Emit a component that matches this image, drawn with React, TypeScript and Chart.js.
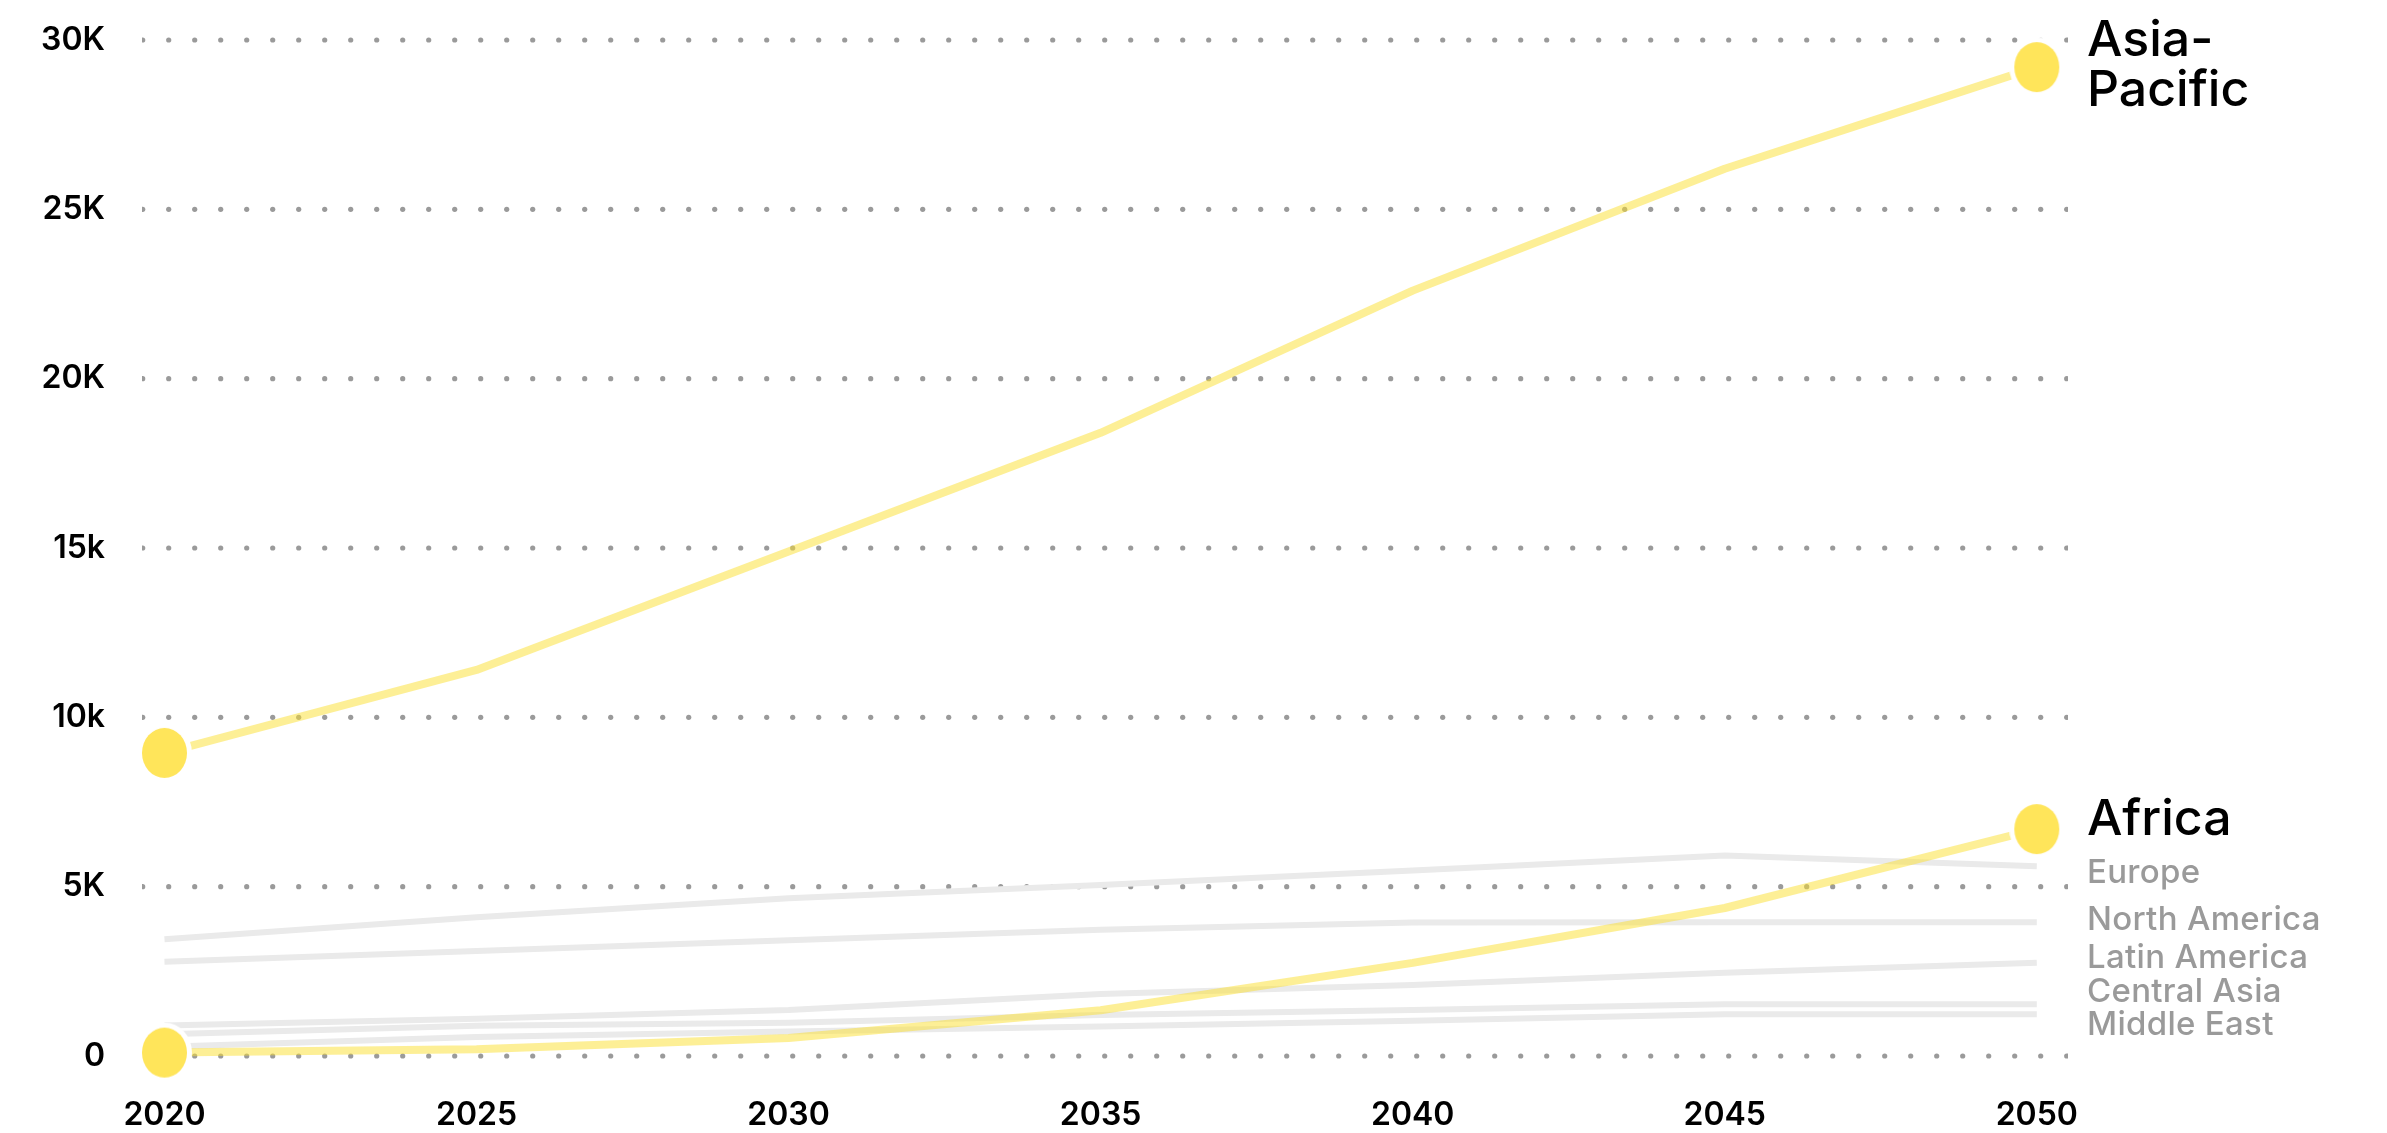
import React, { useEffect, useRef } from 'react';
import { Chart, registerables } from 'chart.js';

Chart.register(...registerables);

// ---- Data ----
const years = [2020, 2025, 2030, 2035, 2040, 2045, 2050];

const seriesLabels = ['Asia-\nPacific', 'Africa', 'Europe', 'North America', 'Latin America', 'Central Asia', 'Middle East'];
const highlighted = [true, true, false, false, false, false, false];

const asiaPacific = [8950, 11400, 14900, 18400, 22600, 26200, 29200];
const africa = [100, 200, 530, 1350, 2750, 4370, 6700];
const europe = [3450, 4100, 4660, 5050, 5480, 5920, 5600];
const northAmerica = [2780, 3100, 3420, 3730, 3940, 3950, 3950];
const latinAmerica = [900, 1100, 1360, 1830, 2100, 2460, 2750];
const centralAsia = [640, 890, 980, 1210, 1360, 1530, 1530];
const middleEast = [270, 560, 720, 870, 1040, 1230, 1230];

const allSeries = [asiaPacific, africa, europe, northAmerica, latinAmerica, centralAsia, middleEast];

const yTickValues = [0, 5000, 10000, 15000, 20000, 25000, 30000];
const yTickLabels = ['0', '5K', '10k', '15k', '20K', '25K', '30K'];

// ---- Styles ----
const FONT = 'Inter';
const YELLOW_LINE = 'rgba(252,224,45,0.5)';
const YELLOW_DOT = '#ffe55a';
const GRAY_LINE = '#eaeaea';
const GRAY_TEXT = '#9a9a9a';
const GRID_DOT = '#9a9a9a';

function makeDot(): HTMLCanvasElement {
  const rx = 22.5, ry = 25, ring = 5;
  const c = document.createElement('canvas');
  c.width = Math.round((rx + ring) * 2);
  c.height = Math.round((ry + ring) * 2);
  const g = c.getContext('2d')!;
  g.fillStyle = '#ffffff';
  g.beginPath();
  g.ellipse(c.width / 2, c.height / 2, rx + ring, ry + ring, 0, 0, Math.PI * 2);
  g.fill();
  g.fillStyle = YELLOW_DOT;
  g.beginPath();
  g.ellipse(c.width / 2, c.height / 2, rx, ry, 0, 0, Math.PI * 2);
  g.fill();
  return c;
}

const dottedGrid = {
  id: 'dottedGrid',
  beforeDatasetsDraw(chart: any) {
    const { ctx, chartArea } = chart;
    const y = chart.scales.y;
    ctx.save();
    ctx.beginPath();
    ctx.rect(chartArea.left, chartArea.top - 10, chartArea.right - chartArea.left, chartArea.bottom - chartArea.top + 20);
    ctx.clip();
    ctx.fillStyle = GRID_DOT;
    y.ticks.forEach((t: any) => {
      const py = y.getPixelForValue(t.value);
      for (let px = chartArea.left + 0.7; px <= chartArea.right + 3; px += 26) {
        ctx.beginPath();
        ctx.arc(px, py, 2.6, 0, Math.PI * 2);
        ctx.fill();
      }
    });
    ctx.restore();
  },
};

type LabelItem = { y: number; lines: string[]; hl: boolean; size: number; lh: number; h: number; cy: number };

const endLabels = {
  id: 'endLabels',
  afterDatasetsDraw(chart: any) {
    const { ctx, chartArea } = chart;
    const yScale = chart.scales.y;
    const items: LabelItem[] = chart.data.datasets.map((ds: any, i: number) => {
      const last = ds.data[ds.data.length - 1];
      const lines = seriesLabels[i].split('\n');
      const hl = highlighted[i];
      const size = hl ? 50 : 33;
      const lh = hl ? 50 : 33.5;
      const h = hl ? Math.max(76, lines.length * lh) : lh;
      return { y: yScale.getPixelForValue(last.y), lines, hl, size, lh, h, cy: 0 };
    });
    const sorted = [...items].sort((a, b) => a.y - b.y);
    type Cl = { items: LabelItem[]; top: number; height: number };
    const clusters: Cl[] = [];
    for (const it of sorted) {
      clusters.push({ items: [it], top: it.y - it.h / 2, height: it.h });
      while (clusters.length > 1) {
        const b = clusters[clusters.length - 1];
        const a = clusters[clusters.length - 2];
        if (a.top + a.height <= b.top) break;
        const merged = [...a.items, ...b.items];
        let off = 0;
        let sum = 0;
        for (const x of merged) {
          sum += x.y - off - x.h / 2;
          off += x.h;
        }
        clusters.splice(-2, 2, { items: merged, top: sum / merged.length, height: off });
      }
    }
    for (const c of clusters) {
      let off = c.top;
      for (const x of c.items) {
        x.cy = off + x.h / 2;
        off += x.h;
      }
    }
    const shift = -4;
    const tx = chartArea.right + 19;
    ctx.save();
    ctx.textAlign = 'left';
    ctx.textBaseline = 'alphabetic';
    for (const it of items) {
      ctx.font = `500 ${it.size}px ${FONT}`;
      try {
        (ctx as any).letterSpacing = it.hl ? '0px' : '0.3px';
      } catch (e) {
        /* ignore */
      }
      ctx.fillStyle = it.hl ? '#000000' : GRAY_TEXT;
      const n = it.lines.length;
      const firstMid = it.cy + shift - ((n - 1) * it.lh) / 2;
      it.lines.forEach((line, k) => {
        const base = firstMid + k * it.lh + 0.364 * it.size;
        ctx.fillText(line, tx, base);
      });
    }
    ctx.restore();
  },
};

export default function App() {
  const ref = useRef<HTMLCanvasElement | null>(null);

  useEffect(() => {
    const canvas = ref.current;
    if (!canvas) return;
    const dot = makeDot();
    const lastIndex = years.length - 1;

    const datasets = allSeries.map((vals, i) => ({
      label: seriesLabels[i].replace('\n', ''),
      data: years.map((yr, j) => ({ x: yr, y: vals[j] })),
      borderColor: highlighted[i] ? YELLOW_LINE : GRAY_LINE,
      backgroundColor: highlighted[i] ? YELLOW_DOT : GRAY_LINE,
      borderWidth: highlighted[i] ? 8 : 6,
      borderCapStyle: 'butt' as const,
      borderJoinStyle: 'round' as const,
      tension: 0,
      fill: false,
      clip: false as const,
      pointStyle: dot,
      pointRadius: (c: any) =>
        highlighted[i] && (c.dataIndex === 0 || c.dataIndex === lastIndex) ? 25 : 0,
      pointHoverRadius: 0,
    }));

    const chart = new Chart(canvas, {
      type: 'line',
      data: { datasets } as any,
      options: {
        animation: false,
        responsive: false,
        devicePixelRatio: 1,
        events: [],
        layout: { padding: { top: 40, right: 319, left: 0, bottom: 0 } },
        plugins: {
          legend: { display: false },
          tooltip: { enabled: false },
        },
        scales: {
          x: {
            type: 'linear',
            min: 2019.64,
            max: 2050.5,
            afterBuildTicks: (s: any) => {
              s.ticks = years.map((v) => ({ value: v }));
            },
            afterFit: (s: any) => {
              s.height = 77;
              s.paddingLeft = 0;
              s.paddingRight = 0;
            },
            grid: { display: false, drawTicks: false },
            border: { display: false },
            ticks: {
              autoSkip: false,
              maxRotation: 0,
              padding: 40,
              color: '#000000',
              font: { family: FONT, size: 32, weight: '600' },
              callback: (v: any) => String(v),
            },
          },
          y: {
            type: 'linear',
            min: 0,
            max: 30000,
            afterBuildTicks: (s: any) => {
              s.ticks = yTickValues.map((v) => ({ value: v }));
            },
            afterFit: (s: any) => {
              s.width = 142;
              s.paddingTop = 0;
              s.paddingBottom = 0;
            },
            grid: { display: false, drawTicks: false },
            border: { display: false },
            ticks: {
              padding: 37,
              color: '#000000',
              font: { family: FONT, size: 32, weight: '600' },
              callback: (v: any) => {
                const idx = yTickValues.indexOf(Number(v));
                return idx >= 0 ? yTickLabels[idx] : '';
              },
            },
          },
        },
      } as any,
      plugins: [dottedGrid, endLabels],
    });

    return () => chart.destroy();
  }, []);

  return (
    <div style={{ position: 'fixed', left: 0, top: 0, width: 2387, height: 1133, background: '#ffffff' }}>
      <canvas ref={ref} width={2387} height={1133} style={{ display: 'block', width: 2387, height: 1133 }} />
    </div>
  );
}
